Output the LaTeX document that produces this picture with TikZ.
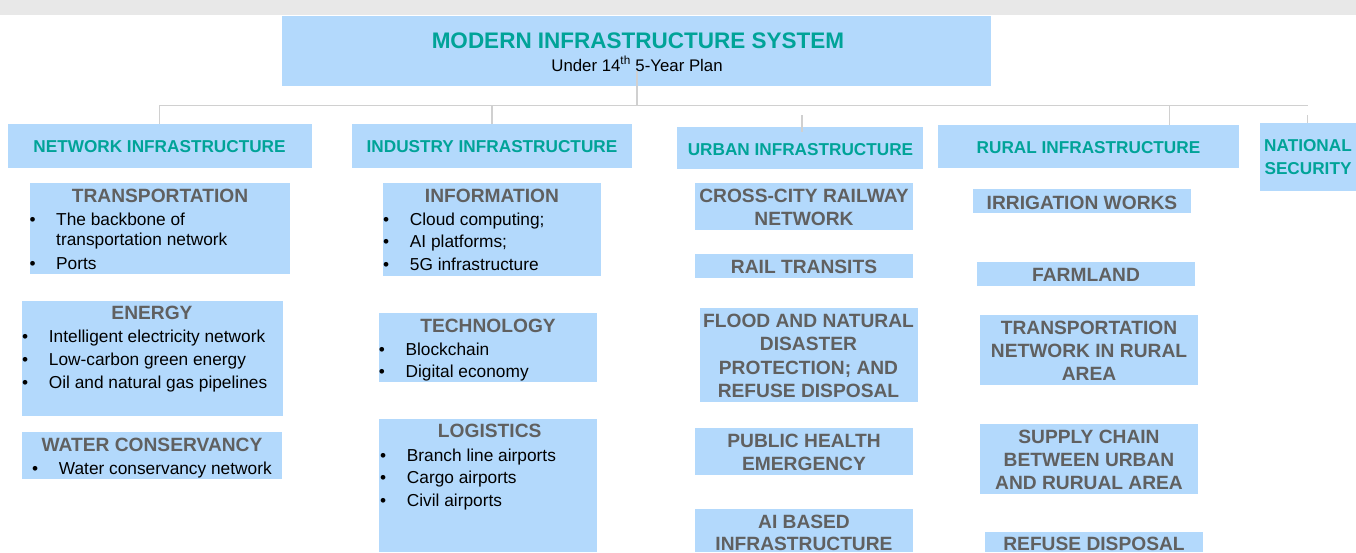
\documentclass[tikz,border=0pt]{standalone}
\usepackage{fontspec}
\setmainfont{Liberation Sans}
\usetikzlibrary{fit}
\definecolor{boxblue}{RGB}{179,217,252}
\definecolor{tealtxt}{RGB}{0,163,152}
\definecolor{subgray}{RGB}{96,96,96}
\definecolor{connc}{RGB}{208,208,208}
\definecolor{bandc}{RGB}{232,232,232}
\newcommand\bitem{\makebox[26.7pt][l]{•}}
\begin{document}
\begin{tikzpicture}[x=1pt,y=-1pt,
  box/.style={fill=boxblue, draw=none, inner sep=0pt},
  hdr/.style={font=\bfseries\fontsize{17.2}{23.5}\selectfont, text=tealtxt, anchor=base, inner sep=0pt, align=center},
  subhdr/.style={font=\bfseries\fontsize{19.2}{23}\selectfont, text=subgray, anchor=base, inner sep=0pt, align=center},
  body/.style={font=\fontsize{17.3}{22.8}\selectfont, text=black, anchor=base west, inner sep=0pt, align=left},
  conn/.style={draw=connc, line width=1.2pt}]
% note: for multi-line nodes the base anchor is the baseline of the last line
\useasboundingbox (0,0) rectangle (1356,552);
\fill[bandc] (0,0) rectangle (1356,15);

% top
\node[box, fit={(282,16) (991,85.6)}] (top) {};
\node[font=\bfseries\fontsize{22.5}{26}\selectfont, text=tealtxt, anchor=base, inner sep=0pt] (titleT) at (638,48.3) {MODERN INFRASTRUCTURE SYSTEM};
\node[font=\fontsize{16.8}{20}\selectfont, anchor=base, inner sep=0pt] (subT) at (637,71) {Under 14\textsuperscript{th} 5-Year Plan};

% category boxes
\node[box, fit={(8,124) (311.5,167.7)}] (net) {};
\node[box, fit={(352,124) (632,167.7)}] (ind) {};
\node[box, fit={(677,126.7) (923,169.3)}] (urb) {};
\node[box, fit={(938,125) (1239,167.7)}] (rur) {};
\node[box, fit={(1260,123) (1356,190.5)}] (nat) {};
\node[hdr] (netT) at (159.5,152.3) {NETWORK INFRASTRUCTURE};
\node[hdr] (indT) at (492,152.5) {INDUSTRY INFRASTRUCTURE};
\node[hdr] (urbT) at (800.5,155) {URBAN INFRASTRUCTURE};
\node[hdr] (rurT) at (1088.5,153.3) {RURAL INFRASTRUCTURE};
\node[hdr] (natT) at (1308,174.5) {NATIONAL\\SECURITY};

% network column
\node[box, fit={(30,182.7) (290,274)}] (trans) {};
\node[subhdr] (transT) at (160,202) {TRANSPORTATION};
\node[body, font=\fontsize{17.3}{20.7}\selectfont] (transL) at (29.3,269) {\bitem The backbone of\\\hspace*{26.7pt}transportation network\\[2.6pt]\bitem Ports};

\node[box, fit={(22,301) (282.5,416)}] (energy) {};
\node[subhdr] (energyT) at (152,319.3) {ENERGY};
\node[body] (energyL) at (22,388.3) {\bitem Intelligent electricity network\\\bitem Low-carbon green energy\\\bitem Oil and natural gas pipelines};

\node[box, fit={(22,432.3) (282,478.7)}] (water) {};
\node[subhdr] (waterT) at (152,451) {WATER CONSERVANCY};
\node[body] (waterL) at (32,474) {\bitem Water conservancy network};

% industry column
\node[box, fit={(383,183.3) (601,275.7)}] (info) {};
\node[subhdr] (infoT) at (492,202.3) {INFORMATION};
\node[body] (infoL) at (383,270.7) {\bitem Cloud computing;\\\bitem AI platforms;\\\bitem 5G infrastructure};

\node[box, fit={(379,313.3) (597,382)}] (tech) {};
\node[subhdr] (techT) at (488,332.3) {TECHNOLOGY};
\node[body, font=\fontsize{17.3}{22.5}\selectfont] (techL) at (378.7,377.5) {\bitem Blockchain\\\bitem Digital economy};

\node[box, fit={(379,419) (597,552)}] (logi) {};
\node[subhdr] (logiT) at (489.7,437.7) {LOGISTICS};
\node[body, font=\fontsize{17.3}{22.5}\selectfont] (logiL) at (380,506) {\bitem Branch line airports\\\bitem Cargo airports\\\bitem Civil airports};

% urban column
\node[box, fit={(695,183) (913,230)}] (cc) {};
\node[subhdr] (ccT) at (804,225) {CROSS-CITY RAILWAY\\NETWORK};
\node[box, fit={(695,254) (913,278)}] (rt) {};
\node[subhdr] (rtT) at (804,273.3) {RAIL TRANSITS};
\node[box, fit={(699.5,308) (917.6,402)}] (fl) {};
\node[subhdr, font=\bfseries\fontsize{19.2}{23.5}\selectfont] (flT) at (808.5,397.5) {FLOOD AND NATURAL\\DISASTER\\PROTECTION; AND\\REFUSE DISPOSAL};
\node[box, fit={(695,428) (913,475)}] (ph) {};
\node[subhdr] (phT) at (804,470) {PUBLIC HEALTH\\EMERGENCY};
\node[box, fit={(695,509) (913,552)}] (ai) {};
\node[subhdr, font=\bfseries\fontsize{19.2}{22.5}\selectfont] (aiT) at (804,550.5) {AI BASED\\INFRASTRUCTURE};

% rural column
\node[box, fit={(973,189) (1191,213)}] (irr) {};
\node[subhdr] (irrT) at (1082,209.3) {IRRIGATION WORKS};
\node[box, fit={(977,262) (1195,286)}] (farm) {};
\node[subhdr] (farmT) at (1086,281) {FARMLAND};
\node[box, fit={(980,315) (1198,385)}] (trr) {};
\node[subhdr] (trrT) at (1089,380) {TRANSPORTATION\\NETWORK IN RURAL\\AREA};
\node[box, fit={(980,424) (1198,494)}] (sup) {};
\node[subhdr] (supT) at (1089,489.3) {SUPPLY CHAIN\\BETWEEN URBAN\\AND RURUAL AREA};
\node[box, fit={(985,532) (1203,552)}] (ref) {};
\node[subhdr] (refT) at (1094,550) {REFUSE DISPOSAL};

% connectors
\coordinate (bus) at (637,105.7);
\coordinate (urbdrop) at (802,115);
\coordinate (rurdrop) at (1169.7,105.7);
\coordinate (natdrop) at (1307.5,115);
\draw[conn] (subT.south) -- (subT.south |- bus);
\draw[conn] (net.north) -- (net.north |- bus) -- (nat.north |- bus);
\draw[conn] (ind.north) -- (ind.north |- bus);
\draw[conn] (urbdrop) -- ([yshift=-5pt]urb.north -| urbdrop);
\draw[conn] (rurdrop) -- (rurdrop |- rur.north);
\draw[conn] (natdrop) -- (nat.north -| natdrop);
\end{tikzpicture}
\end{document}
